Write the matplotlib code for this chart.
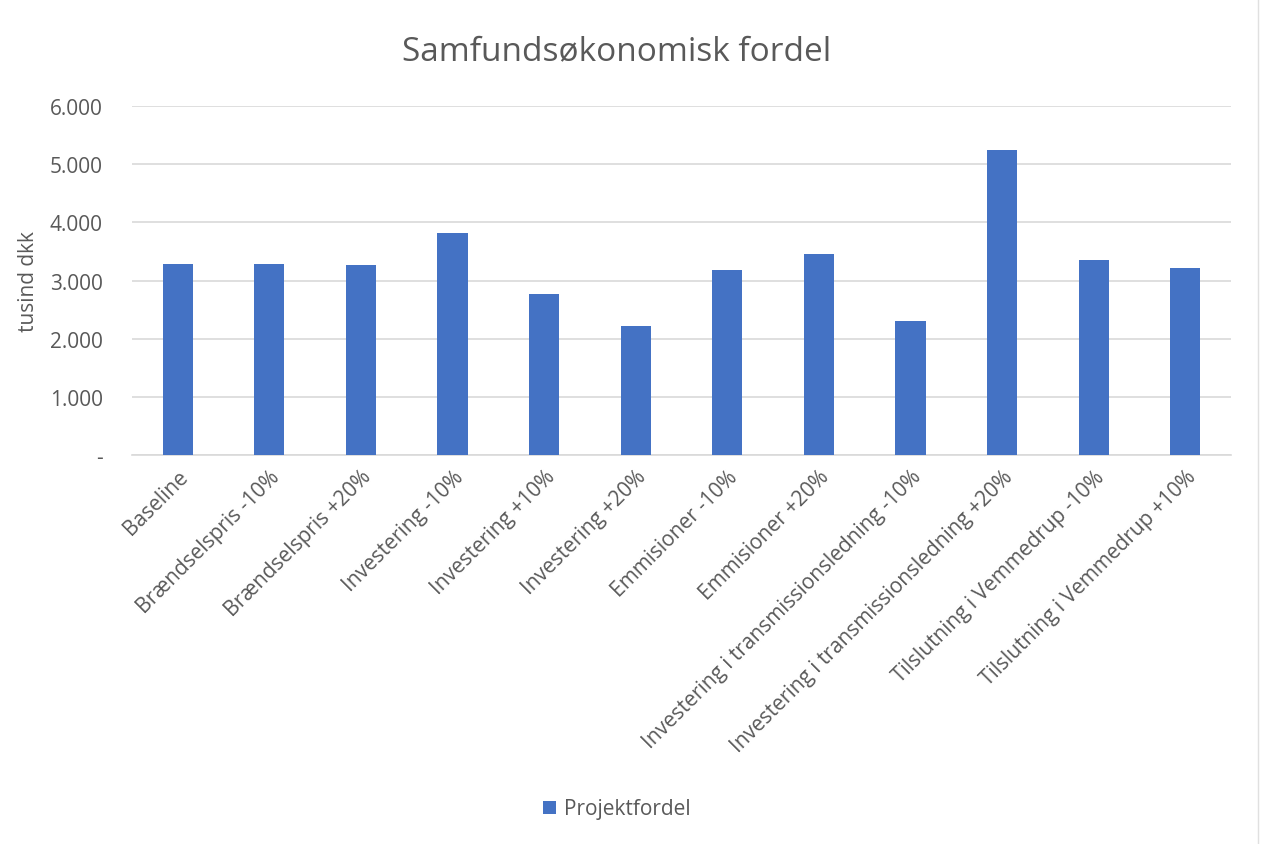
import matplotlib
matplotlib.use('Agg')
import matplotlib.pyplot as plt
from matplotlib.ticker import FuncFormatter

plt.rcParams['font.family'] = ['Open Sans', 'DejaVu Sans']

categories = ['Baseline', 'Brændselspris -10%', 'Brændselspris +20%',
              'Investering -10%', 'Investering +10%', 'Investering +20%',
              'Emmisioner -10%', 'Emmisioner +20%',
              'Investering i transmissionsledning -10%',
              'Investering i transmissionsledning +20%',
              'Tilslutning i Vemmedrup -10%', 'Tilslutning i Vemmedrup +10%']
projektfordel = [3290, 3290, 3260, 3810, 2760, 2210, 3185, 3460,
                 2310, 5240, 3355, 3220]
yticks = [0, 1000, 2000, 3000, 4000, 5000, 6000]

grey = '#595959'

fig = plt.figure(figsize=(12.61, 8.45), dpi=100)
ax = fig.add_axes([132 / 1261, 1 - 456 / 845, (1231 - 132) / 1261, (456 - 107) / 845])

x = range(len(categories))
ax.bar(x, projektfordel, width=0.33, color='#4472C4', label='Projektfordel', zorder=3)

ax.set_xlim(-0.5, len(categories) - 0.5)
ax.set_ylim(0, 6000)
ax.set_yticks(yticks)


def fmt(v, pos):
    if v == 0:
        return '-'
    return '{:,.0f}'.format(v).replace(',', '.')


ax.yaxis.set_major_formatter(FuncFormatter(fmt))
ax.grid(axis='y', color='#d9d9d9', linewidth=1.2, zorder=0)
for s in ['top', 'right', 'left']:
    ax.spines[s].set_visible(False)
ax.spines['bottom'].set_color('#d9d9d9')
ax.spines['bottom'].set_linewidth(1.2)
ax.tick_params(axis='both', length=0, colors=grey, labelsize=15)
ax.tick_params(axis='y', pad=21)

ax.set_xticks(list(x))
ax.set_xticklabels(categories, rotation=45, ha='right', rotation_mode='anchor')
ax.tick_params(axis='x', pad=8)

ax.set_ylabel('tusind dkk', color=grey, fontsize=15, labelpad=8)
fig.text(617 / 1261, 1 - 52 / 845, 'Samfundsøkonomisk fordel', ha='center', va='center',
         fontsize=24, color=grey)

fig.legend(loc='center', bbox_to_anchor=(617 / 1261, 1 - 810 / 845), frameon=False,
           fontsize=15, labelcolor=grey, handlelength=0.6, handleheight=0.6,
           handletextpad=0.4)

# faint border on the right edge of the screenshot
fig.add_artist(plt.Line2D([1258 / 1261, 1258 / 1261], [0, 1], color='#e0e0e0',
                          linewidth=1, transform=fig.transFigure))

fig.savefig('out.png', dpi=100)
